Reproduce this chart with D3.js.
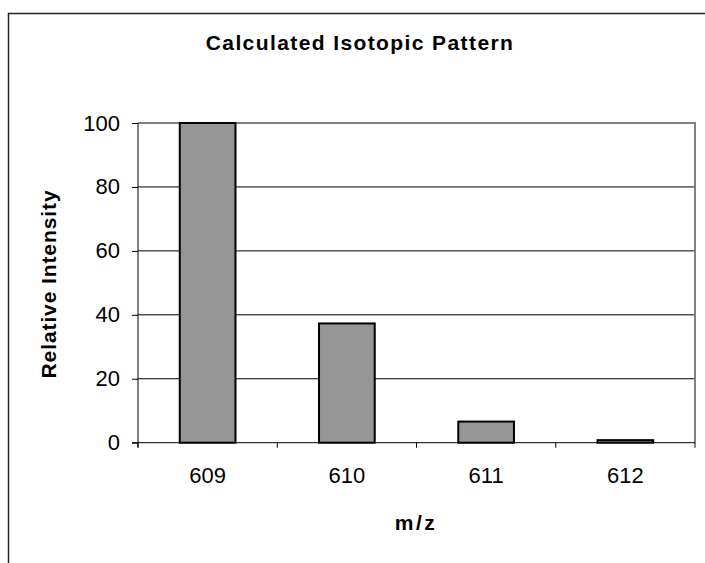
<!DOCTYPE html>
<html>
<head>
<meta charset="utf-8">
<script src="https://cdn.jsdelivr.net/npm/d3@7"></script>
<style>
  html, body { margin: 0; padding: 0; background: #fff; }
  svg { display: block; }
  text { font-family: Arial, "Liberation Sans", sans-serif; fill: #000; }
</style>
</head>
<body>
<svg id="chart" width="705" height="563"></svg>
<script>
// Isotope peaks: m/z and relative intensity (%)
const massLabels = ["609", "610", "611", "612"];
const intensities = [100, 37.3, 6.6, 0.8];
const yTicks = [0, 20, 40, 60, 80, 100];

const titleText = "Calculated Isotopic Pattern";
const xTitle = "m/z";
const yTitle = "Relative Intensity";

const svg = d3.select("#chart");
const plot = { left: 138, right: 695, top: 123, bottom: 442.7 };

// Frame around the whole chart
svg.append("rect")
  .attr("x", 8.5).attr("y", 13.5)
  .attr("width", 720).attr("height", 580)
  .attr("fill", "none").attr("stroke", "#222").attr("stroke-width", 1.5);

const x = d3.scaleBand()
  .domain(massLabels)
  .range([plot.left, plot.right])
  .paddingInner(0.6)
  .paddingOuter(0.3);

const xBand = d3.scaleBand()
  .domain(massLabels)
  .range([plot.left, plot.right]);

const y = d3.scaleLinear().domain([0, 100]).range([plot.bottom, plot.top]);

// Gridlines
svg.append("g")
  .selectAll("line")
  .data(yTicks.filter(t => t > 0 && t < 100))
  .join("line")
  .attr("x1", plot.left).attr("x2", plot.right)
  .attr("y1", d => y(d)).attr("y2", d => y(d))
  .attr("stroke", "#000").attr("stroke-width", 1);

// Plot border (top and right)
svg.append("path")
  .attr("d", `M${plot.left},${y(100)}H${plot.right}V${plot.bottom}`)
  .attr("fill", "none").attr("stroke", "#808080").attr("stroke-width", 2);

// Bars
svg.append("g")
  .selectAll("rect")
  .data(intensities)
  .join("rect")
  .attr("x", (d, i) => x(massLabels[i]))
  .attr("width", x.bandwidth())
  .attr("y", d => y(d))
  .attr("height", d => y(0) - y(d))
  .attr("fill", "#969696")
  .attr("stroke", "#000")
  .attr("stroke-width", 2);

// Y axis
const yAxis = d3.axisLeft(y).tickValues(yTicks).tickSize(6).tickPadding(12);
const gy = svg.append("g").attr("transform", `translate(${plot.left},0)`).call(yAxis);
gy.attr("font-size", null).attr("font-family", null);
gy.select(".domain").attr("d", `M0,${plot.top}V${plot.bottom + 5}`).attr("stroke", "#000");
gy.selectAll(".tick line").attr("stroke", "#000");
gy.selectAll(".tick text")
  .style("font-size", "22px");

// X axis: ticks at category boundaries, labels at band centres
const gx = svg.append("g").attr("transform", `translate(0,${plot.bottom})`);
gx.append("line")
  .attr("x1", plot.left - 6).attr("x2", plot.right)
  .attr("stroke", "#000");
const boundaries = massLabels.map(m => xBand(m)).concat([plot.right]);
gx.selectAll("line.tick")
  .data(boundaries)
  .join("line")
  .attr("class", "tick")
  .attr("x1", d => d).attr("x2", d => d)
  .attr("y1", 0).attr("y2", 5)
  .attr("stroke", "#000");
gx.selectAll("text")
  .data(massLabels)
  .join("text")
  .attr("x", d => xBand(d) + xBand.bandwidth() / 2)
  .attr("y", 40.5)
  .attr("text-anchor", "middle")
  .style("font-size", "22px")
  .text(d => d);

// Titles
svg.append("text")
  .attr("x", 360).attr("y", 50)
  .attr("text-anchor", "middle")
  .style("font-size", "21px").style("font-weight", "bold")
  .style("letter-spacing", "1.4px")
  .text(titleText);

svg.append("text")
  .attr("transform", `translate(56,284) rotate(-90)`)
  .attr("text-anchor", "middle")
  .style("font-size", "21px").style("font-weight", "bold")
  .style("letter-spacing", "0.9px")
  .text(yTitle);

svg.append("text")
  .attr("x", 416).attr("y", 530)
  .attr("text-anchor", "middle")
  .style("font-size", "21px").style("font-weight", "bold")
  .style("letter-spacing", "2.5px")
  .text(xTitle);
</script>
</body>
</html>
